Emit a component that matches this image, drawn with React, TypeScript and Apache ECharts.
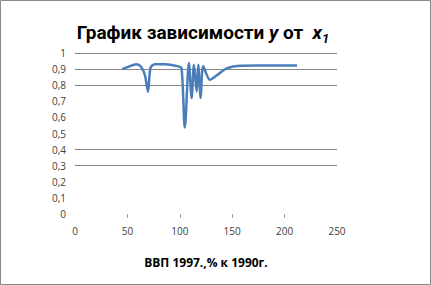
import React, { useEffect, useRef } from "react";
import * as echarts from "echarts";

const xValues = [45, 50, 58.6, 63, 66.6, 69.7, 72, 76.1, 85.7, 98.5, 101.7, 104.8, 108.7, 111.3, 113.5, 116.1, 117.6, 119.9, 122.4, 128.8, 135, 144.8, 157.6, 180, 211.9];
const yValues = [0.9, 0.912, 0.93, 0.915, 0.865, 0.76, 0.907, 0.93, 0.93, 0.917, 0.905, 0.538, 0.938, 0.72, 0.927, 0.76, 0.927, 0.72, 0.917, 0.834, 0.86, 0.905, 0.921, 0.922, 0.923];
const xTicks = [0, 50, 100, 150, 200, 250];
const xTickMarks = [50, 100, 150, 200];
const yTickStep = 0.1;
const titleText = "График зависимости ";
const xAxisName = "ВВП 1997.,% к 1990г.";

export default function App() {
  const ref = useRef<HTMLDivElement>(null);
  useEffect(() => {
    if (!ref.current) return;
    const chart = echarts.init(ref.current, undefined, { renderer: "svg" });
    const t = "rgba(0,0,0,0)";
    const g = "#868686";
    chart.setOption({
      animation: false,
      backgroundColor: "#ffffff",
      grid: { left: 75, right: 94, top: 53, bottom: 71 },
      xAxis: {
        type: "value",
        min: xTicks[0],
        max: xTicks[xTicks.length - 1],
        interval: 50,
        name: xAxisName,
        nameLocation: "middle",
        nameGap: 42,
        nameTextStyle: { fontFamily: "Open Sans", fontWeight: "bold", fontSize: 12, color: "#000" },
        axisLine: { show: false },
        axisTick: { show: true, length: 4, customValues: xTickMarks, lineStyle: { color: "#a0a0a0" } },
        splitLine: { show: false },
        axisLabel: { margin: 12, fontFamily: "Open Sans", fontSize: 10, color: "#404040" },
      },
      yAxis: {
        type: "value",
        min: 0,
        max: 1,
        interval: yTickStep,
        axisLine: { show: false },
        axisTick: { show: false },
        splitLine: { show: true, lineStyle: { color: [t, t, t, g, g, t, t, t, g, g, g], width: 1 } },
        axisLabel: {
          margin: 9,
          fontFamily: "Open Sans",
          fontSize: 10,
          color: "#404040",
          formatter: (v: number) => (Math.round(v * 10) / 10).toString().replace(".", ","),
        },
      },
      graphic: [
        {
          type: "rect",
          shape: { x: 0.5, y: 0.5, width: 430, height: 284 },
          style: { fill: "none", stroke: "#8a8a8a", lineWidth: 1 },
          silent: true,
        },
        {
          type: "text",
          x: 203,
          y: 32,
          style: {
            text: "{b|" + titleText + "}{i|y}{b| от  }{i|x}{s|1}",
            align: "center",
            verticalAlign: "middle",
            rich: {
              b: { fontFamily: "Roboto", fontWeight: "bold", fontSize: 19, fill: "#000" },
              i: { fontFamily: "Roboto", fontWeight: "bold", fontStyle: "italic", fontSize: 19, fill: "#000" },
              s: { fontFamily: "Roboto", fontWeight: "bold", fontStyle: "italic", fontSize: 13, fill: "#000", padding: [12, 0, 0, 0] },
            },
          },
        },
      ],
      series: [
        {
          type: "line",
          data: xValues.map((x, i) => [x, yValues[i]]),
          smooth: 0.3,
          showSymbol: false,
          lineStyle: { color: "#4a7ebb", width: 2.5 },
        },
      ],
    });
    return () => chart.dispose();
  }, []);
  return <div ref={ref} style={{ position: "absolute", left: 0, top: 0, width: 431, height: 285 }} />;
}
